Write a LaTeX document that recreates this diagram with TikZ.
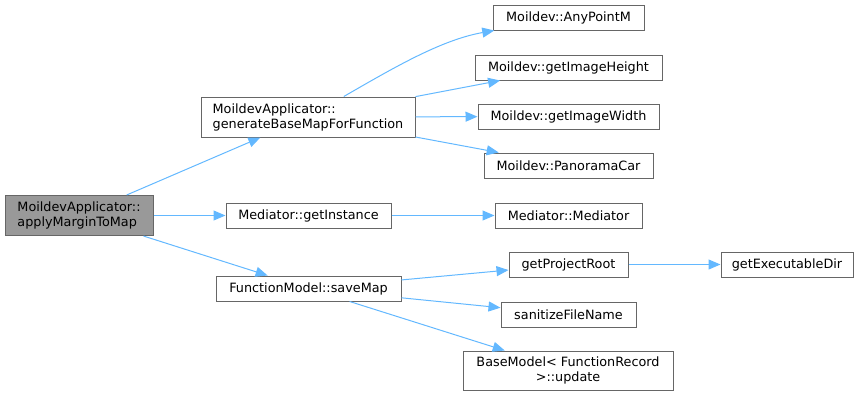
\documentclass[tikz,border=0pt]{standalone}
\usepackage{fontspec}
\setmainfont{DejaVu Sans}
\usetikzlibrary{arrows.meta}
\definecolor{edgeblue}{HTML}{63B8FF}
\definecolor{boxgray}{HTML}{666666}
\definecolor{mainfill}{HTML}{999999}
\begin{document}
\begin{tikzpicture}[x=0.75pt, y=-0.75pt,
        fn/.style={draw=boxgray, line width=0.75pt, inner sep=0pt,
            minimum height=18.75pt, font=\fontsize{9.6pt}{11.25pt}\selectfont},
        call/.style={draw=edgeblue, line width=0.75pt,
            -{Triangle[length=9pt, width=7.5pt]}}]
                \useasboundingbox (0,0) rectangle (860,397);
                % caller and first level
                \node[fn, fill=mainfill, minimum width=111pt, minimum height=30pt, align=left] at (79,215.5) (apply) {MoildevApplicator::\\applyMarginToMap};
                \node[fn, minimum width=160.5pt, minimum height=30pt, align=left] at (308,117) (genmap) {MoildevApplicator::\\generateBaseMapForFunction};
                \node[fn, minimum width=123.75pt] at (308.5,215.5) (getinst) {Mediator::getInstance};
                \node[fn, minimum width=138.75pt] at (308.5,288.5) (savemap) {FunctionModel::saveMap};
                % second level
                \node[fn, minimum width=113.25pt] at (568.5,17.5) (anypt) {Moildev::AnyPointM};
                \node[fn, minimum width=140.25pt] at (568.5,67.5) (imgh) {Moildev::getImageHeight};
                \node[fn, minimum width=135.75pt] at (568.5,116.5) (imgw) {Moildev::getImageWidth};
                \node[fn, minimum width=126.75pt] at (568.5,165.5) (pano) {Moildev::PanoramaCar};
                \node[fn, minimum width=110.25pt] at (568.5,215.5) (mediator) {Mediator::Mediator};
                \node[fn, minimum width=89.25pt] at (568.5,264.5) (projroot) {getProjectRoot};
                \node[fn, minimum width=101.25pt] at (568.5,314.5) (sanitize) {sanitizeFileName};
                \node[fn, minimum width=157.5pt, minimum height=29.25pt, align=center] at (568,370.5) (update) {BaseModel< FunctionRecord\\>::update};
                \node[fn, minimum width=99pt] at (787,264.5) (execdir) {getExecutableDir};
                % calls
                \draw[call] (apply) -- (genmap);
                \draw[call] (apply) -- (getinst);
                \draw[call] (apply) -- (savemap);
                \draw[call] (genmap) .. controls (390,70) and (440,40) .. (anypt);
                \draw[call] (genmap) -- (imgh);
                \draw[call] (genmap) -- (imgw);
                \draw[call] (genmap) -- (pano);
                \draw[call] (getinst) -- (mediator);
                \draw[call] (savemap) -- (projroot);
                \draw[call] (savemap) -- (sanitize);
                \draw[call] (savemap) -- (update);
                \draw[call] (projroot) -- (execdir);
\end{tikzpicture}
\end{document}
